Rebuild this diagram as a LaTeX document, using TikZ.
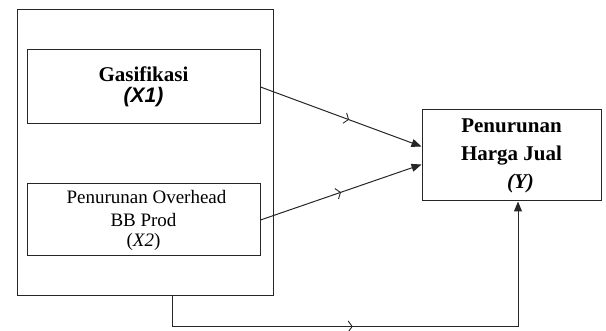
\documentclass[tikz,border=0pt]{standalone}
\usepackage{fontspec}
\setmainfont{Liberation Serif}
\newfontfamily\arialf{Liberation Sans}
\usetikzlibrary{arrows.meta,decorations.markings,calc}
\begin{document}
\begin{tikzpicture}[x=1pt,y=-1pt,
  box/.style={draw=black!85, line width=1pt, inner sep=0pt, rectangle, align=center},
  conn/.style={draw=black!85, line width=1pt, -{Triangle[length=10pt,width=8pt]}},
  midmark/.style={postaction={decorate}, decoration={markings, mark=at position #1 with {\arrow[line width=0.9pt]{Straight Barb[length=4pt,width=11pt]}}}}
]
\useasboundingbox (0,0) rectangle (606,331);
\node[box, minimum width=256, minimum height=286] (outer) at (145,153) {};
\node[box, minimum width=233, minimum height=74, font=\fontsize{21}{21}\selectfont\bfseries] (xa) at (143.5,87)
  {Gasifikasi\\{\arialf\bfseries\itshape (X1)}};
\node[box, minimum width=233, minimum height=72, font=\fontsize{19}{23}\selectfont] (xb) at (143.5,220)
  {\hspace*{6pt}Penurunan Overhead\\BB Prod\\[-3pt](\textit{X2})};
\node[box, minimum width=179, minimum height=91, font=\fontsize{21}{28}\selectfont\bfseries] (yb) at (511.5,155.5)
  {Penurunan\\Harga Jual\\\hspace*{18pt}\textit{(Y)}};
\coordinate (bstart) at ($(outer.south west)+(156,0)$);
\draw[conn, midmark=0.55] (xa.east) -- ($(yb.west)+(0,-9)$);
\draw[conn, midmark=0.5] (xb.east) -- ($(yb.west)+(0,9)$);
\draw[conn, midmark=0.42] (bstart) -- ++(0,30) -| ($(yb.south)+(6.5,0)$);
\end{tikzpicture}
\end{document}
